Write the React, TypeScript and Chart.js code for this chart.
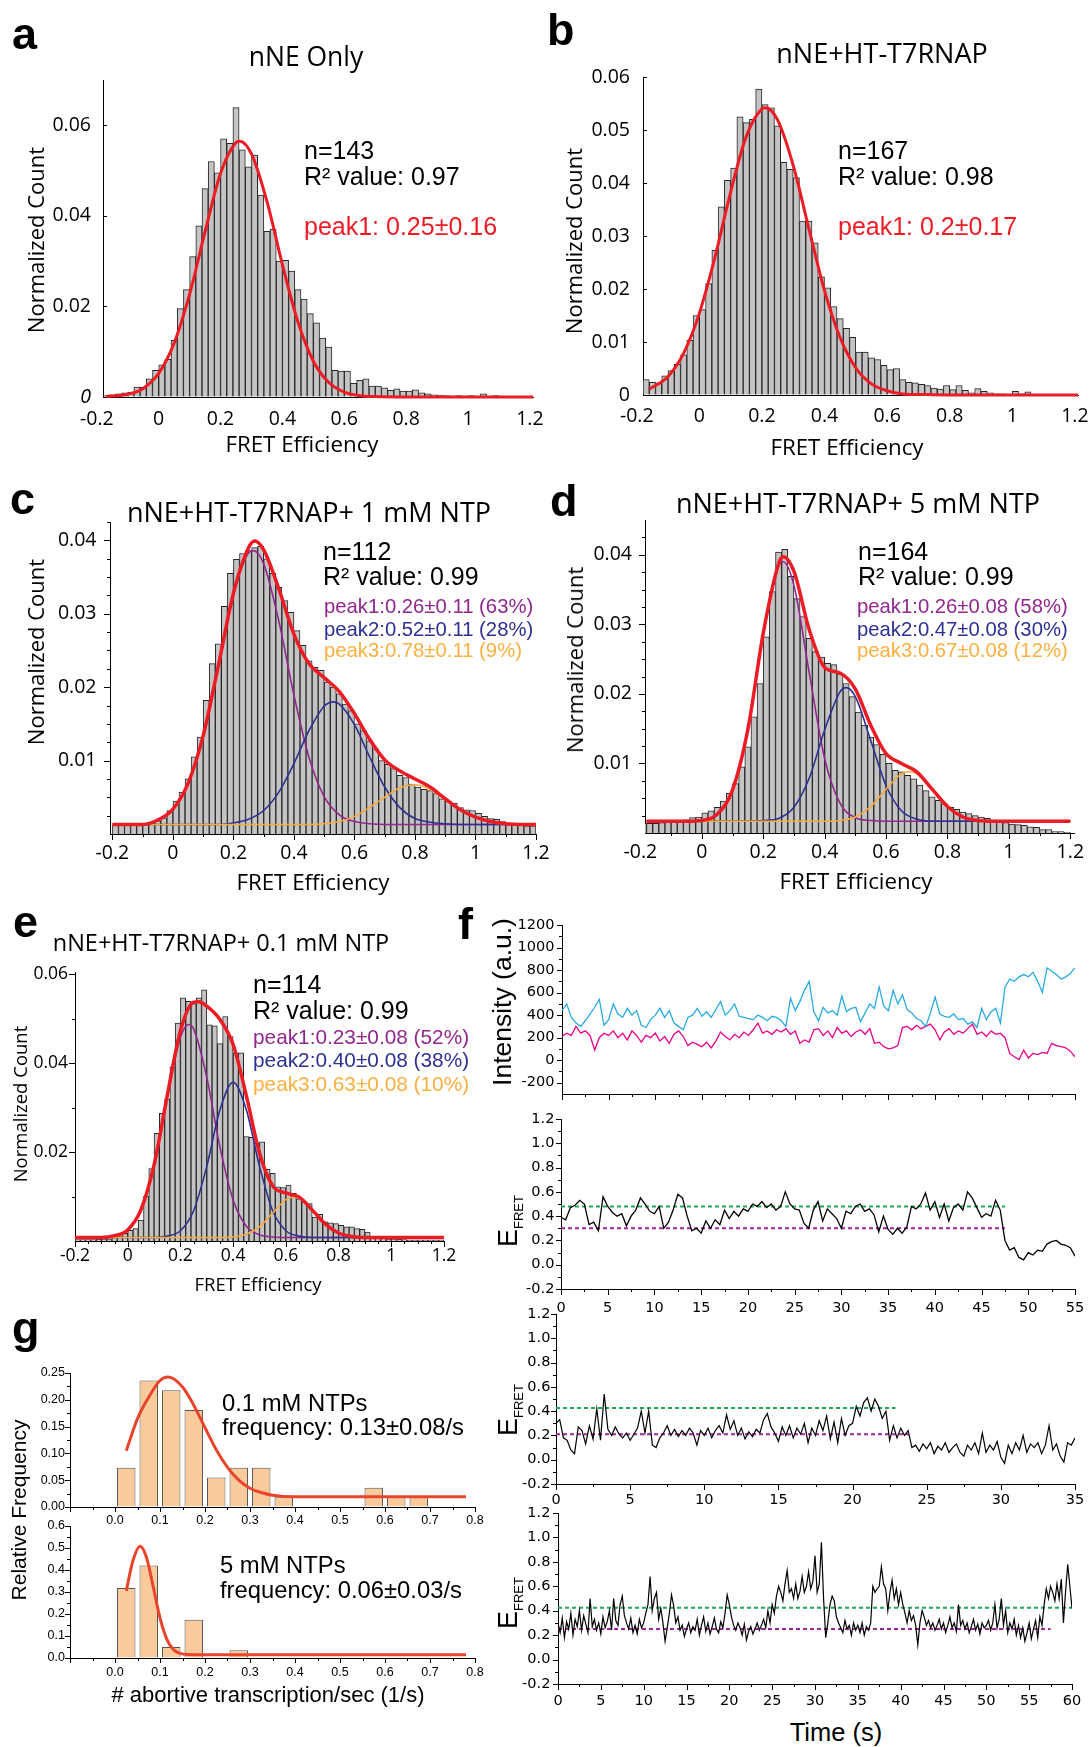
import React, { useEffect, useRef } from 'react';
import { Chart, registerables } from 'chart.js';

// ================= DATA =================
// histogram bin centres (FRET efficiency), width 0.02
const BIN_START = -0.19;
const BIN_W = 0.02;
const binX = Array.from({ length: 70 }, (_, i) => Math.round((BIN_START + BIN_W * i) * 100) / 100);

// panel a: nNE only
const histA = [0, .0003, .0005, .0007, .0009, .0011, .0022, .0022, .004, .0059,
  .0071, .0083, .0125, .0195, .0237, .031, .0378, .046, .052, .0495,
  .057, .056, .0639, .0546, .0508, .0534, .0446, .0366, .0371, .030,
  .0302, .0278, .0237, .0216, .0184, .0164, .013, .011, .0059, .0057,
  .0057, .003, .0037, .004, .0024, .0024, .002, .0015, .0018, .0013,
  .0013, .0016, .0009, .0007, .0005, .0004, .0003, .0002, .0003, .0002,
  .0003, .0002, .0007, .0002, .0003, .0002, .0001, .0001, .0001, .0001];
const fitA = [[-0.17, .0001], [-0.1, .0006], [-0.05, .0019], [0, .0052], [0.05, .0119], [0.1, .0227], [0.15, .0365], [0.2, .0494], [0.25, .0562], [0.262, .0565], [0.3, .0537], [0.35, .0432], [0.4, .0292], [0.45, .0166], [0.5, .0079], [0.55, .0032], [0.6, .0011], [0.65, .0003], [0.7, .0001], [0.8, 0], [1.21, 0]];

// panel b: nNE + HT-T7RNAP
const histB = [0, .0029, .0024, .0023, .0036, .0046, .0058, .0076, .0103, .015,
  .0161, .021, .0273, .0355, .0405, .0428, .0525, .0514, .052, .0577,
  .0548, .0542, .0508, .0439, .0426, .041, .0328, .0328, .0287, .0223,
  .0202, .0167, .0144, .0126, .0109, .0081, .0081, .007, .0067, .0056,
  .0048, .005, .0029, .0024, .0023, .002, .0018, .0013, .0011, .0018,
  .001, .0018, .0009, .0004, .0012, .0007, .0004, .0002, .0002, .0001,
  .0007, .0002, .0006, .0001, .0001, 0, 0, 0, 0, 0];
const fitB = [[-0.16, .0011], [-0.1, .0035], [-0.05, .0079], [0, .0154], [0.05, .026], [0.1, .0383], [0.15, .0488], [0.2, .054], [0.211, .0542], [0.25, .0519], [0.3, .0433], [0.35, .0314], [0.4, .0197], [0.45, .0108], [0.5, .0051], [0.55, .0021], [0.6, .0008], [0.65, .0002], [0.7, .0001], [0.8, 0], [1.21, 0]];

// panel c: + 1 mM NTP
const histC = [.0012, .0012, .0012, .0012, .0012, .0013, .0015, .0018, .0022, .0032,
  .0045, .0057, .0075, .0105, .0132, .0182, .0232, .0259, .031, .0355,
  .0374, .0382, .0386, .039, .0392, .0375, .0355, .0336, .0318, .0302,
  .0277, .0257, .0236, .0227, .0223, .0207, .02, .0191, .0177, .0168,
  .015, .0141, .0127, .0116, .01, .0095, .0089, .008, .0077, .0068,
  .0064, .0061, .0059, .0055, .0048, .0045, .0042, .0036, .0033, .0032,
  .0028, .0024, .0021, .002, .0017, .0015, .0015, .0014, .0011, .0011];
const fitC = [[-0.2, .0013], [-0.1, .0013], [-0.05, .0019], [0, .0034], [0.05, .0069], [0.1, .0134], [0.15, .0229], [0.2, .0328], [0.25, .039], [0.27, .0399], [0.3, .0387], [0.35, .0334], [0.4, .0272], [0.45, .0232], [0.5, .0213], [0.55, .0194], [0.6, .0164], [0.65, .0129], [0.7, .0101], [0.75, .0086], [0.8, .0075], [0.85, .0064], [0.9, .0048], [0.95, .0033], [1.0, .0023], [1.05, .0017], [1.1, .0014], [1.15, .0013], [1.2, .0013]];
const peak1C = [[-0.2, .0013], [-0.1, .0013], [-0.05, .0019], [0, .0034], [0.05, .0069], [0.1, .0134], [0.15, .0229], [0.2, .0326], [0.25, .0383], [0.265, .0386], [0.3, .0368], [0.35, .029], [0.4, .0189], [0.45, .0104], [0.5, .0051], [0.55, .0026], [0.6, .0017], [0.65, .0014], [0.7, .0013], [1.2, .0013]];
const peak2C = [[-0.2, .0013], [0.15, .0013], [0.2, .0015], [0.25, .002], [0.3, .0032], [0.35, .0057], [0.4, .0096], [0.45, .0141], [0.5, .0174], [0.53, .018], [0.55, .0177], [0.6, .0149], [0.65, .0105], [0.7, .0064], [0.75, .0036], [0.8, .0021], [0.85, .0016], [0.9, .0014], [0.95, .0013], [1.2, .0013]];
const peak3C = [[-0.2, .0013], [0.45, .0013], [0.5, .0014], [0.55, .0017], [0.6, .0024], [0.65, .0036], [0.7, .005], [0.75, .0063], [0.795, .0067], [0.85, .0061], [0.9, .0047], [0.95, .0033], [1.0, .0023], [1.05, .0017], [1.1, .0014], [1.15, .0013], [1.2, .0013]];

// panel d: + 5 mM NTP
const histD = [.0014, .0014, .0014, .0015, .0016, .0017, .0018, .0019, .0022, .0023,
  .0029, .0032, .0037, .0046, .0057, .0071, .0095, .0124, .0167, .0215,
  .0282, .0347, .0404, .0408, .0369, .0337, .0311, .028, .0261, .0253,
  .0244, .0242, .0229, .0215, .0196, .0174, .0155, .0138, .0127, .0113,
  .01, .009, .0088, .0083, .0078, .0069, .0061, .0052, .0047, .0042,
  .0037, .0034, .003, .0028, .0025, .0023, .0021, .0018, .0016, .0015,
  .0013, .0012, .0011, .0009, .0008, .0005, .0005, .0002, .0002, .0001];
const fitD = [[-0.18, .0017], [-0.05, .0017], [0, .0018], [0.05, .0027], [0.1, .0062], [0.15, .0149], [0.2, .0287], [0.25, .0387], [0.265, .0397], [0.3, .0376], [0.35, .0292], [0.4, .0238], [0.45, .023], [0.5, .0207], [0.55, .0155], [0.6, .0114], [0.65, .01], [0.7, .0088], [0.75, .0063], [0.8, .0038], [0.85, .0023], [0.9, .0018], [0.95, .0017], [1.2, .0017]];
const peak1D = [[-0.18, .0017], [-0.05, .0017], [0, .0018], [0.05, .0027], [0.1, .0062], [0.15, .0149], [0.2, .0286], [0.25, .0383], [0.265, .039], [0.3, .0356], [0.35, .023], [0.4, .0107], [0.45, .0043], [0.5, .0022], [0.55, .0018], [0.6, .0017], [1.2, .0017]];
const peak2D = [[-0.18, .0017], [0.15, .0017], [0.2, .0018], [0.25, .0021], [0.3, .0037], [0.35, .0079], [0.4, .0148], [0.45, .0203], [0.47, .0209], [0.5, .0196], [0.55, .0133], [0.6, .0068], [0.65, .0032], [0.7, .002], [0.75, .0017], [1.2, .0017]];
const peak3D = [[-0.18, .0017], [0.4, .0017], [0.45, .0018], [0.5, .0023], [0.55, .0038], [0.6, .0063], [0.65, .0085], [0.675, .0088], [0.7, .0085], [0.75, .0063], [0.8, .0038], [0.85, .0023], [0.9, .0018], [0.95, .0017], [1.2, .0017]];

// panel e: + 0.1 mM NTP
const histE = [.0003, .0003, .0003, .0003, .0004, .0005, .0005, .0008, .001, .0017,
  .0024, .0028, .0047, .0101, .0163, .0242, .0287, .032, .0392, .049,
  .0547, .0539, .0534, .0547, .0565, .0486, .0484, .0444, .0505, .046,
  .0423, .0423, .0235, .0233, .022, .0223, .0161, .0152, .0122, .012,
  .0126, .0107, .0095, .0088, .0084, .0054, .006, .0043, .0041, .0039,
  .0035, .0032, .0032, .0028, .0026, .002, .0008, .0008, .0006, .0005,
  .0005, .0004, .0003, .0002, .0002, .0002, .0002, .0002, .0002, .0002];
const fitE = [[-0.2, .0008], [-0.1, .0008], [-0.05, .0012], [0, .0025], [0.05, .007], [0.1, .0171], [0.15, .0327], [0.2, .0473], [0.25, .0537], [0.27, .0538], [0.3, .0528], [0.35, .0498], [0.4, .0442], [0.45, .0327], [0.5, .0198], [0.55, .0124], [0.6, .0108], [0.65, .0099], [0.7, .007], [0.75, .0038], [0.8, .0018], [0.85, .001], [0.9, .0008], [1.2, .0008]];
const peak1E = [[-0.2, .0008], [-0.1, .0008], [-0.05, .0012], [0, .0025], [0.05, .007], [0.1, .0171], [0.15, .0324], [0.2, .0458], [0.232, .0487], [0.25, .0477], [0.3, .0368], [0.35, .0211], [0.4, .0092], [0.45, .0033], [0.5, .0014], [0.55, .0009], [0.6, .0008], [1.2, .0008]];
const peak2E = [[-0.2, .0008], [0.1, .0008], [0.15, .0011], [0.2, .0023], [0.25, .0068], [0.3, .0168], [0.35, .0295], [0.4, .0357], [0.45, .0295], [0.5, .0168], [0.55, .0068], [0.6, .0023], [0.65, .0011], [0.7, .0008], [1.2, .0008]];
const peak3E = [[-0.2, .0008], [0.35, .0008], [0.4, .0009], [0.45, .0015], [0.5, .0032], [0.55, .0063], [0.6, .0093], [0.63, .0099], [0.65, .0096], [0.7, .007], [0.75, .0038], [0.8, .0018], [0.85, .001], [0.9, .0008], [1.2, .0008]];

// panel f: time traces
const DT_INT = 0.5; // s per point, intensity + trace 1
const DT_FAST = 0.25; // s per point, traces 2 and 3
const donor = [440, 500, 380, 330, 300, 350, 410, 470, 540, 310,
  360, 500, 410, 380, 460, 400, 440, 310, 290, 360,
  400, 460, 380, 440, 330, 300, 270, 380, 400, 460,
  390, 430, 380, 450, 520, 400, 440, 500, 390, 380,
  370, 360, 400, 380, 350, 390, 380, 350, 300, 550,
  440, 520, 620, 700, 430, 350, 470, 420, 440, 400,
  570, 430, 460, 470, 340, 420, 500, 460, 650, 480,
  440, 620, 500, 580, 450, 420, 370, 350, 300, 420,
  560, 410, 390, 380, 410, 360, 370, 320, 340, 290,
  460, 360, 430, 460, 330, 650, 720, 700, 740, 760,
  740, 780, 700, 600, 820, 790, 760, 720, 740, 770, 820];
const acceptor = [210, 240, 220, 300, 240, 260, 220, 90, 200, 240,
  220, 260, 200, 240, 180, 260, 220, 160, 220, 200,
  240, 170, 210, 150, 230, 260, 210, 130, 160, 140,
  120, 160, 110, 170, 250, 210, 180, 230, 200, 250,
  220, 270, 330, 240, 260, 230, 270, 250, 280, 230,
  260, 150, 180, 160, 270, 280, 220, 260, 200, 290,
  240, 260, 210, 250, 270, 230, 280, 150, 160, 120,
  100, 110, 130, 290, 300, 270, 310, 280, 300, 320,
  270, 180, 250, 280, 230, 260, 240, 280, 320, 230,
  250, 210, 260, 230, 240, 200, 60, 30, 5, 90,
  20, 60, 50, 70, 60, 150, 130, 120, 110, 80, 30];
const fret1 = [.39, .37, .47, .49, .53, .50, .33, .35, .28, .56,
  .48, .43, .40, .42, .32, .40, .45, .55, .50, .44,
  .42, .48, .30, .35, .45, .58, .55, .40, .28, .30,
  .26, .36, .30, .37, .33, .45, .38, .44, .40, .46,
  .44, .50, .48, .52, .47, .50, .45, .48, .60, .50,
  .46, .45, .34, .30, .45, .52, .36, .46, .42, .38,
  .30, .44, .42, .48, .50, .44, .46, .41, .27, .40,
  .29, .25, .30, .26, .31, .48, .46, .50, .59, .45,
  .52, .39, .50, .36, .47, .50, .45, .60, .55, .47,
  .39, .42, .40, .53, .45, .20, .12, .14, .06, .04,
  .10, .08, .12, .11, .17, .19, .20, .17, .16, .14, .07];
const fret2 = [.30, .33, .18, .16, .08, .05, .27, .24, .13, .28, .17, .42, .16, .54, .25, .20, .27, .21, .18, .22,
  .16, .21, .26, .40, .22, .40, .12, .10, .18, .22, .28, .20, .25, .19, .24, .20, .26, .22, .12, .24,
  .20, .26, .18, .24, .28, .22, .37, .25, .32, .20, .26, .17, .23, .19, .25, .22, .33, .38, .27, .22,
  .15, .27, .20, .28, .18, .26, .21, .30, .14, .26, .20, .32, .24, .36, .17, .31, .14, .34, .20, .28,
  .30, .44, .36, .47, .51, .40, .50, .44, .34, .40, .16, .28, .18, .26, .20, .24, .10, .12, .07, .13,
  .09, .14, .05, .11, .08, .14, .06, .10, .13, .06, .03, .12, .08, .14, .05, .22, .06, .12, .08, .15,
  .02, -.03, .12, .05, .14, .08, .20, .06, .13, .10, .14, .05, .12, .28, .08, .13, .03, -.02, .14, .12,
  .18];
const fret3 = [.30, .22, .34, .18, .31, .25, .38, .20, .33, .27, .40, .24, .36, .29, .22, .50, .27, .33, .24, .30, .21,
  .35, .26, .31, .40, .24, .50, .32, .28, .45, .52, .36, .30, .25, .34, .22, .28, .21, .33, .26, .30,
  .38, .45, .68, .40, .50, .55, .33, .42, .30, .15, .26, .38, .53, .44, .30, .35, .24, .28, .19, .25,
  .30, .22, .27, .24, .33, .20, .28, .35, .23, .30, .21, .27, .34, .25, .22, .31, .26, .38, .53, .45,
  .35, .28, .24, .30, .26, .20, .29, .16, .23, .27, .21, .25, .30, .24, .28, .33, .26, .40, .30, .45,
  .38, .52, .60, .55, .48, .62, .73, .55, .58, .50, .62, .50, .56, .68, .55, .60, .72, .58, .64, .85,
  .55, .62, .96, .50, .18, .30, .45, .52, .48, .35, .30, .26, .22, .32, .25, .28, .20, .30, .24, .28,
  .22, .30, .20, .27, .24, .30, .60, .55, .58, .60, .76, .62, .58, .40, .55, .65, .50, .58, .45, .55,
  .45, .38, .30, .40, .32, .36, .28, .12, .30, .40, .35, .28, .32, .26, .30, .24, .28, .33, .25, .30,
  .22, .28, .35, .26, .30, .23, .45, .28, .32, .25, .30, .22, .27, .33, .24, .29, .21, .30, .26, .28,
  .32, .24, .30, .45, .26, .33, .50, .28, .40, .22, .30, .25, .33, .20, .28, .18, .26, .15, .22, .30,
  .17, .25, .32, .18, .35, .28, .45, .58, .50, .60, .55, .48, .62, .50, .66, .30, .56, .78, .60, .42];
// dashed state levels [value, end time]
const lvl1 = { hi: [0.48, 47.5], lo: [0.30, 47.5] };
const lvl2 = { hi: [0.425, 22.9], lo: [0.21, 23.8] };
const lvl3 = { hi: [0.425, 60], lo: [0.25, 57.5] };

// panel g: abortive transcription frequency histograms
const gBinX = [0.025, 0.075, 0.125, 0.175, 0.225, 0.275, 0.325, 0.375, 0.425, 0.475, 0.525, 0.575, 0.625, 0.675];
const gTop = [.073, .236, .218, .181, .055, .073, .073, .018, null, null, null, .036, .018, .018];
const gBot = [.318, .421, .05, .174, null, .035, null, null, null, null, null, null, null, null];
const gTopFit = [[0.025, .105], [0.05, .165], [0.075, .205], [0.1, .236], [0.118, .2425], [0.15, .224], [0.175, .19], [0.2, .148], [0.225, .107], [0.25, .074], [0.275, .05], [0.3, .035], [0.325, .027], [0.35, .022], [0.4, .019], [0.78, .019]];
const gBotFit = [[0.025, .305], [0.04, .443], [0.056, .508], [0.07, .457], [0.085, .323], [0.1, .182], [0.115, .086], [0.13, .038], [0.145, .021], [0.16, .016], [0.2, .015], [0.78, .015]];

// tick values
const X_H = [-0.2, 0, 0.2, 0.4, 0.6, 0.8, 1, 1.2];
const X_H_MIN = [-0.1, 0.1, 0.3, 0.5, 0.7, 0.9, 1.1];
const X_E_MIN = [-0.15, -0.1, -0.05, 0.05, 0.1, 0.15, 0.25, 0.3, 0.35, 0.45, 0.5, 0.55, 0.65, 0.7, 0.75, 0.85, 0.9, 0.95, 1.05, 1.1, 1.15];
const A_Y = [0, 0.02, 0.04, 0.06];
const B_Y = [0, 0.01, 0.02, 0.03, 0.04, 0.05, 0.06];
const CD_Y = [0.01, 0.02, 0.03, 0.04];
const CD_Y_MIN = [0.0025, 0.005, 0.0075, 0.0125, 0.015, 0.0175, 0.0225, 0.025, 0.0275, 0.0325, 0.035, 0.0375, 0.0425];
const E_Y = [0.02, 0.04, 0.06];
const E_Y_MIN = [0.01, 0.03, 0.05];
const I_Y = [-200, 0, 200, 400, 600, 800, 1000, 1200];
const I_Y_MIN = [-100, 100, 300, 500, 700, 900, 1100];
const F_Y = [-0.2, 0, 0.2, 0.4, 0.6, 0.8, 1, 1.2];
const F_Y_MIN = [-0.1, 0.1, 0.3, 0.5, 0.7, 0.9, 1.1];
const T55 = [0, 5, 10, 15, 20, 25, 30, 35, 40, 45, 50, 55];
const T55_MIN = [2.5, 7.5, 12.5, 17.5, 22.5, 27.5, 32.5, 37.5, 42.5, 47.5, 52.5];
const T35 = [0, 5, 10, 15, 20, 25, 30, 35];
const T35_MIN = [2.5, 7.5, 12.5, 17.5, 22.5, 27.5, 32.5];
const T60 = [0, 5, 10, 15, 20, 25, 30, 35, 40, 45, 50, 55, 60];
const T60_MIN = [2.5, 7.5, 12.5, 17.5, 22.5, 27.5, 32.5, 37.5, 42.5, 47.5, 52.5, 57.5];
const G_X = [0, 0.1, 0.2, 0.3, 0.4, 0.5, 0.6, 0.7, 0.8];
const G_X_MAJ = [-0.1, 0, 0.1, 0.2, 0.3, 0.4, 0.5, 0.6, 0.7, 0.8];
const G_X_MIN = [-0.05, 0.05, 0.15, 0.25, 0.35, 0.45, 0.55, 0.65, 0.75];
const G1_Y = [0, 0.05, 0.1, 0.15, 0.2, 0.25];
const G1_Y_MIN = [0.025, 0.075, 0.125, 0.175, 0.225];
const G2_Y = [0, 0.1, 0.2, 0.3, 0.4, 0.5, 0.6];
const G2_Y_MIN = [0.05, 0.15, 0.25, 0.35, 0.45, 0.55];

// ================= STYLE =================
const OS = "'Open Sans', sans-serif";
const LS = "'Liberation Sans', Arial, sans-serif";
const RED = '#ed1c24';
const PUR = '#92278f';
const BLU = '#2e3192';
const ORA = '#f9a93a';
const ORA_T = '#fbb040';
const BAR_FILL = '#c4c4c4';
const BAR_EDGE = '#262626';

const tickMarks = {
  id: 'tickMarks',
  afterDraw(chart: any, _a: any, opts: any) {
    const list = (opts && opts.marks) || [];
    const ctx = chart.ctx;
    const ca = chart.chartArea;
    ctx.save();
    ctx.strokeStyle = '#000';
    ctx.lineWidth = 1;
    for (const m of list) {
      const sc = chart.scales[m.axis];
      for (const v of m.values) {
        const p = Math.round(sc.getPixelForValue(v)) + 0.5;
        ctx.beginPath();
        if (m.axis === 'x') { ctx.moveTo(p, ca.bottom); ctx.lineTo(p, ca.bottom + m.len); }
        else { ctx.moveTo(ca.left, p); ctx.lineTo(ca.left - m.len, p); }
        ctx.stroke();
      }
    }
    ctx.restore();
  },
};
Chart.register(...registerables, tickMarks);

const PAD_T = 34;
const PAD_R = 34;

function axis(o: any) {
  return {
    type: 'linear',
    min: o.min,
    max: o.max,
    offset: false,
    grid: { display: true, drawOnChartArea: false, drawTicks: false, offset: false },
    border: { display: true, color: '#000', width: 1 },
    afterBuildTicks: (s: any) => { s.ticks = o.ticks.map((v: number) => ({ value: v })); },
    afterFit: (s: any) => { if (o.axis === 'x') s.height = o.size; else s.width = o.size; },
    ticks: {
      display: o.show !== false,
      padding: o.pad,
      autoSkip: false,
      maxRotation: 0,
      minRotation: 0,
      color: '#000',
      font: o.font,
      callback: (v: any) => o.fmt(v),
    },
  };
}

const fmtX = (v: number) => (v === 0 ? '0' : v === 1 ? '1' : v.toFixed(1));
const fmt2 = (v: number) => (v === 0 ? '0' : v.toFixed(2));
const fmt2f = (v: number) => v.toFixed(2);
const fmt1 = (v: number) => v.toFixed(1);
const fmtS = (v: number) => String(v);

const pts = (arr: number[][]) => arr.map((p) => ({ x: p[0], y: p[1] }));
const series = (vals: number[], dt: number) => vals.map((y, i) => ({ x: i * dt, y }));

function histConfig(h: number[], lines: any[], xs: any, ys: any, marks: any[]) {
  return {
    type: 'bar',
    data: {
      datasets: [
        ...lines.map((l: any, i: number) => ({
          type: 'line', data: pts(l.d), borderColor: l.c, borderWidth: l.w, pointRadius: 0,
          fill: false, cubicInterpolationMode: 'monotone', order: i, clip: false,
        })),
        {
          type: 'bar', data: binX.map((x, i) => ({ x, y: h[i] })), backgroundColor: BAR_FILL,
          borderColor: BAR_EDGE, borderWidth: 1, barPercentage: 1, categoryPercentage: 1, order: 50,
        },
      ],
    },
    options: { scales: { x: xs, y: ys }, plugins: { legend: { display: false }, tooltip: { enabled: false }, tickMarks: { marks } } },
  };
}

function traceConfig(lines: any[], xs: any, ys: any, marks: any[]) {
  return {
    type: 'line',
    data: {
      datasets: lines.map((l: any, i: number) => ({
        data: l.d, borderColor: l.c, borderWidth: l.w, borderDash: l.dash || [], pointRadius: 0,
        tension: 0, fill: false, order: i,
      })),
    },
    options: { scales: { x: xs, y: ys }, plugins: { legend: { display: false }, tooltip: { enabled: false }, tickMarks: { marks } } },
  };
}

function gConfig(vals: any[], fit: number[][], xs: any, ys: any, marks: any[]) {
  return {
    type: 'bar',
    data: {
      datasets: [
        { type: 'line', data: pts(fit), borderColor: '#e8452c', borderWidth: 3, pointRadius: 0, fill: false, cubicInterpolationMode: 'monotone', order: 0, clip: false },
        { type: 'bar', data: gBinX.map((x, i) => ({ x, y: vals[i] })), backgroundColor: '#f9cb9c', borderColor: '#555', borderWidth: 1, barPercentage: 0.82, categoryPercentage: 1, order: 5 },
      ],
    },
    options: { scales: { x: xs, y: ys }, plugins: { legend: { display: false }, tooltip: { enabled: false }, tickMarks: { marks } } },
  };
}

function ChartBox({ box, yW, xH, make }: any) {
  const ref = useRef<HTMLCanvasElement>(null);
  const w = box.R - box.L + yW + PAD_R;
  const h = box.B - box.T + PAD_T + xH;
  useEffect(() => {
    const cfg: any = make();
    cfg.options = {
      ...cfg.options,
      responsive: false,
      maintainAspectRatio: false,
      animation: false,
      devicePixelRatio: 1,
      events: [],
      layout: { padding: { top: PAD_T, right: PAD_R, left: 0, bottom: 0 }, autoPadding: false },
    };
    const c = new Chart(ref.current as HTMLCanvasElement, cfg);
    return () => c.destroy();
  }, []);
  return <canvas ref={ref} width={w} height={h} style={{ position: 'absolute', left: box.L - yW, top: box.T - PAD_T, width: w, height: h }} />;
}

function T({ x, b, fs, f = LS, c = '#000', a = 'left', w = 400, children }: any) {
  const k = f === OS ? 0.888 : 0.847;
  return (
    <div style={{ position: 'absolute', left: x, top: b - k * fs, fontSize: fs, lineHeight: `${fs}px`, fontFamily: f, color: c, fontWeight: w, whiteSpace: 'nowrap', transform: a === 'center' ? 'translateX(-50%)' : undefined }}>{children}</div>
  );
}
function V({ cx, cy, fs, f = LS, children }: any) {
  return (
    <div style={{ position: 'absolute', left: cx, top: cy, fontSize: fs, lineHeight: `${fs}px`, fontFamily: f, whiteSpace: 'nowrap', transform: 'translate(-50%,-50%) rotate(-90deg)' }}>{children}</div>
  );
}
function EF({ cx, cy }: any) {
  return (
    <div style={{ position: 'absolute', left: cx, top: cy, fontSize: 27, lineHeight: '27px', fontFamily: LS, whiteSpace: 'nowrap', transform: 'translate(-50%,-50%) rotate(-90deg)' }}>
      E<span style={{ fontSize: 13, position: 'relative', top: 6 }}>FRET</span>
    </div>
  );
}

const HF = { family: 'Open Sans', size: 19.5 };
const HFe = { family: 'Open Sans', size: 17.5 };
const FF = { family: 'DejaVu Sans', size: 14.5 };
const GF = { family: 'Liberation Sans', size: 12.5 };

// layout boxes (plot areas)
const BA = { L: 103, R: 533, T: 80, B: 397 };
const BB = { L: 643, R: 1078, T: 77, B: 395 };
const BC = { L: 110, R: 536, T: 522, B: 834 };
const BD = { L: 645, R: 1074, T: 520, B: 833 };
const BE = { L: 75, R: 444, T: 972, B: 1241 };
const BF1 = { L: 562, R: 1075, T: 925, B: 1094 };
const BF2 = { L: 561, R: 1075, T: 1119, B: 1289 };
const BF3 = { L: 556, R: 1075, T: 1314, B: 1484 };
const BF4 = { L: 558, R: 1072, T: 1513, B: 1684 };
const BG1 = { L: 70, R: 475, T: 1373, B: 1507 };
const BG2 = { L: 70, R: 475, T: 1526, B: 1658 };

const dash = (lv: number[]) => [{ x: 0, y: lv[0] }, { x: lv[1], y: lv[0] }];
const GREEN = '#1fa85a';
const DPUR = '#a4249f';

export default function App() {
  return (
    <div style={{ position: 'absolute', left: 0, top: 0, width: 1090, height: 1747, background: '#fff', overflow: 'hidden' }}>
      {/* a */}
      <ChartBox box={BA} yW={80} xH={45} make={() => histConfig(histA, [{ d: fitA, c: RED, w: 3 }],
        axis({ axis: 'x', min: -0.18, max: 1.21, ticks: X_H, fmt: fmtX, size: 45, pad: 10.5, font: HF }),
        axis({ axis: 'y', min: 0, max: 0.07, ticks: A_Y, fmt: fmt2, size: 80, pad: 12, font: (ctx: any) => ({ family: 'Open Sans', size: 19.5, style: ctx.tick && ctx.tick.value === 0 ? 'italic' : 'normal' }) }),
        [{ axis: 'y', values: A_Y.slice(1), len: -4 }])} />
      {/* b */}
      <ChartBox box={BB} yW={80} xH={45} make={() => histConfig(histB, [{ d: fitB, c: RED, w: 3 }],
        axis({ axis: 'x', min: -0.18, max: 1.21, ticks: X_H, fmt: fmtX, size: 45, pad: 9.7, font: HF }),
        axis({ axis: 'y', min: 0, max: 0.06, ticks: B_Y, fmt: fmt2, size: 80, pad: 13, font: HF }),
        [{ axis: 'y', values: B_Y.slice(1), len: -4 }])} />
      {/* c */}
      <ChartBox box={BC} yW={80} xH={45} make={() => histConfig(histC, [{ d: fitC, c: RED, w: 3.5 }, { d: peak3C, c: ORA, w: 1.6 }, { d: peak2C, c: BLU, w: 1.6 }, { d: peak1C, c: PUR, w: 1.6 }],
        axis({ axis: 'x', min: -0.208, max: 1.2, ticks: X_H, fmt: fmtX, size: 45, pad: 7.7, font: HF }),
        axis({ axis: 'y', min: 0, max: 0.0425, ticks: CD_Y, fmt: fmt2f, size: 80, pad: 13.5, font: HF }),
        [{ axis: 'x', values: X_H, len: 6 }, { axis: 'x', values: X_H_MIN, len: 3 }, { axis: 'y', values: CD_Y, len: 6 }, { axis: 'y', values: CD_Y_MIN, len: 3 }])} />
      {/* d */}
      <ChartBox box={BD} yW={80} xH={45} make={() => histConfig(histD, [{ d: fitD, c: RED, w: 3.5 }, { d: peak3D, c: ORA, w: 1.6 }, { d: peak2D, c: BLU, w: 1.6 }, { d: peak1D, c: PUR, w: 1.6 }],
        axis({ axis: 'x', min: -0.185, max: 1.212, ticks: X_H, fmt: fmtX, size: 45, pad: 7.7, font: HF }),
        axis({ axis: 'y', min: 0, max: 0.045, ticks: CD_Y, fmt: fmt2f, size: 80, pad: 13, font: HF }),
        [{ axis: 'x', values: X_H.slice(1), len: 6 }, { axis: 'x', values: X_H_MIN, len: 3 }, { axis: 'y', values: CD_Y, len: 6 }, { axis: 'y', values: CD_Y_MIN, len: 3 }])} />
      {/* e */}
      <ChartBox box={BE} yW={70} xH={40} make={() => histConfig(histE, [{ d: fitE, c: RED, w: 3.5 }, { d: peak3E, c: ORA, w: 1.6 }, { d: peak2E, c: BLU, w: 1.6 }, { d: peak1E, c: PUR, w: 1.6 }],
        axis({ axis: 'x', min: -0.2, max: 1.2, ticks: X_H, fmt: fmtX, size: 40, pad: 5, font: HFe }),
        axis({ axis: 'y', min: 0, max: 0.0605, ticks: E_Y, fmt: fmt2f, size: 70, pad: 7, font: HFe }),
        [{ axis: 'x', values: X_H, len: 6 }, { axis: 'x', values: X_E_MIN, len: 3 }, { axis: 'y', values: E_Y, len: 6 }, { axis: 'y', values: E_Y_MIN, len: 3 }])} />
      {/* f1 intensity */}
      <ChartBox box={BF1} yW={60} xH={20} make={() => traceConfig(
        [{ d: series(donor, DT_INT), c: '#29abe2', w: 1.3 }, { d: series(acceptor, DT_INT), c: '#ec008c', w: 1.3 }],
        axis({ axis: 'x', min: 0, max: 55, ticks: T55, fmt: fmtS, size: 20, pad: 8, font: FF, show: false }),
        axis({ axis: 'y', min: -300, max: 1200, ticks: I_Y, fmt: fmtS, size: 60, pad: 7.6, font: FF }),
        [{ axis: 'x', values: T55, len: 6 }, { axis: 'x', values: T55_MIN, len: 3 }, { axis: 'y', values: I_Y, len: 5 }, { axis: 'y', values: I_Y_MIN, len: 3 }])} />
      {/* f2 */}
      <ChartBox box={BF2} yW={60} xH={30} make={() => traceConfig(
        [{ d: series(fret1, DT_INT), c: '#000', w: 1.3 }, { d: dash(lvl1.hi), c: GREEN, w: 2, dash: [4, 3] }, { d: dash(lvl1.lo), c: DPUR, w: 2, dash: [4, 3] }],
        axis({ axis: 'x', min: 0, max: 55, ticks: T55, fmt: fmtS, size: 30, pad: 10.3, font: FF }),
        axis({ axis: 'y', min: -0.2, max: 1.2, ticks: F_Y, fmt: fmt1, size: 60, pad: 6.6, font: FF }),
        [{ axis: 'x', values: T55, len: 6 }, { axis: 'x', values: T55_MIN, len: 3 }, { axis: 'y', values: F_Y, len: 5 }, { axis: 'y', values: F_Y_MIN, len: 3 }])} />
      {/* f3 */}
      <ChartBox box={BF3} yW={60} xH={30} make={() => traceConfig(
        [{ d: series(fret2, DT_FAST), c: '#000', w: 1.2 }, { d: dash(lvl2.hi), c: GREEN, w: 2, dash: [4, 3] }, { d: dash(lvl2.lo), c: DPUR, w: 2, dash: [4, 3] }],
        axis({ axis: 'x', min: 0, max: 35, ticks: T35, fmt: fmtS, size: 30, pad: 7.3, font: FF }),
        axis({ axis: 'y', min: -0.2, max: 1.2, ticks: F_Y, fmt: fmt1, size: 60, pad: 5.6, font: FF }),
        [{ axis: 'x', values: T35, len: 6 }, { axis: 'x', values: T35_MIN, len: 3 }, { axis: 'y', values: F_Y, len: 5 }, { axis: 'y', values: F_Y_MIN, len: 3 }])} />
      {/* f4 */}
      <ChartBox box={BF4} yW={60} xH={30} make={() => traceConfig(
        [{ d: series(fret3, DT_FAST), c: '#000', w: 1.2 }, { d: dash(lvl3.hi), c: GREEN, w: 2, dash: [4, 3] }, { d: dash(lvl3.lo), c: DPUR, w: 2, dash: [4, 3] }],
        axis({ axis: 'x', min: 0, max: 60, ticks: T60, fmt: fmtS, size: 30, pad: 8.3, font: FF }),
        axis({ axis: 'y', min: -0.2, max: 1.2, ticks: F_Y, fmt: fmt1, size: 60, pad: 7.6, font: FF }),
        [{ axis: 'x', values: T60, len: 6 }, { axis: 'x', values: T60_MIN, len: 3 }, { axis: 'y', values: F_Y, len: 5 }, { axis: 'y', values: F_Y_MIN, len: 3 }])} />
      {/* g1 */}
      <ChartBox box={BG1} yW={55} xH={18} make={() => gConfig(gTop, gTopFit,
        axis({ axis: 'x', min: -0.1, max: 0.8, ticks: G_X, fmt: fmt1, size: 18, pad: 6, font: GF }),
        axis({ axis: 'y', min: 0, max: 0.25, ticks: G1_Y, fmt: fmt2f, size: 55, pad: 5, font: GF }),
        [{ axis: 'x', values: G_X_MAJ, len: 5 }, { axis: 'x', values: G_X_MIN, len: 3 }, { axis: 'y', values: G1_Y, len: 5 }, { axis: 'y', values: G1_Y_MIN, len: 3 }])} />
      {/* g2 */}
      <ChartBox box={BG2} yW={55} xH={22} make={() => gConfig(gBot, gBotFit,
        axis({ axis: 'x', min: -0.1, max: 0.8, ticks: G_X, fmt: fmt1, size: 22, pad: 7, font: GF }),
        axis({ axis: 'y', min: 0, max: 0.6, ticks: G2_Y, fmt: fmt1, size: 55, pad: 5, font: GF }),
        [{ axis: 'x', values: G_X_MAJ, len: 5 }, { axis: 'x', values: G_X_MIN, len: 3 }, { axis: 'y', values: G2_Y, len: 5 }, { axis: 'y', values: G2_Y_MIN, len: 3 }])} />

      {/* panel letters */}
      <T x={12} b={49} fs={45} w={700}>a</T>
      <T x={547} b={45} fs={45} w={700}>b</T>
      <T x={10} b={514} fs={45} w={700}>c</T>
      <T x={550} b={516} fs={45} w={700}>d</T>
      <T x={13} b={937} fs={45} w={700}>e</T>
      <T x={458} b={939} fs={45} w={700}>f</T>
      <T x={12} b={1343} fs={45} w={700}>g</T>

      {/* titles */}
      <T x={306} b={67} fs={26.5} f={OS} a="center">nNE Only</T>
      <T x={882} b={63} fs={27} f={OS} a="center">nNE+HT-T7RNAP</T>
      <T x={309} b={522} fs={27} f={OS} a="center">nNE+HT-T7RNAP+ 1 mM NTP</T>
      <T x={858} b={513} fs={27} f={OS} a="center">nNE+HT-T7RNAP+ 5 mM NTP</T>
      <T x={221} b={952} fs={23.5} f={OS} a="center">nNE+HT-T7RNAP+ 0.1 mM NTP</T>

      {/* annotations */}
      <T x={304} b={159} fs={25}>n=143</T>
      <T x={304} b={185} fs={25}>R² value: 0.97</T>
      <T x={304} b={235} fs={25} c={RED}>peak1: 0.25±0.16</T>
      <T x={838} b={159} fs={25}>n=167</T>
      <T x={838} b={185} fs={25}>R² value: 0.98</T>
      <T x={838} b={235} fs={25} c={RED}>peak1: 0.2±0.17</T>
      <T x={323} b={560} fs={25}>n=112</T>
      <T x={323} b={585} fs={25}>R² value: 0.99</T>
      <T x={324} b={613} fs={20.3} c={PUR}>peak1:0.26±0.11 (63%)</T>
      <T x={324} b={636} fs={20.3} c={BLU}>peak2:0.52±0.11 (28%)</T>
      <T x={324} b={657} fs={20.3} c={ORA_T}>peak3:0.78±0.11 (9%)</T>
      <T x={858} b={560} fs={25}>n=164</T>
      <T x={858} b={585} fs={25}>R² value: 0.99</T>
      <T x={857} b={613} fs={20.3} c={PUR}>peak1:0.26±0.08 (58%)</T>
      <T x={857} b={636} fs={20.3} c={BLU}>peak2:0.47±0.08 (30%)</T>
      <T x={857} b={657} fs={20.3} c={ORA_T}>peak3:0.67±0.08 (12%)</T>
      <T x={253} b={993} fs={25}>n=114</T>
      <T x={253} b={1019} fs={25}>R² value: 0.99</T>
      <T x={253} b={1045} fs={20.8} c={PUR}>peak1:0.23±0.08 (52%)</T>
      <T x={253} b={1068} fs={20.8} c={BLU}>peak2:0.40±0.08 (38%)</T>
      <T x={253} b={1092} fs={20.8} c={ORA_T}>peak3:0.63±0.08 (10%)</T>

      {/* axis titles */}
      <T x={302} b={453} fs={22.3} f={OS} a="center">FRET Efficiency</T>
      <T x={847} b={456} fs={22.3} f={OS} a="center">FRET Efficiency</T>
      <T x={313} b={891} fs={22.3} f={OS} a="center">FRET Efficiency</T>
      <T x={856} b={890} fs={22.3} f={OS} a="center">FRET Efficiency</T>
      <T x={258} b={1291} fs={18.5} f={OS} a="center">FRET Efficiency</T>
      <V cx={35} cy={240} fs={22} f={OS}>Normalized Count</V>
      <V cx={573} cy={241} fs={22} f={OS}>Normalized Count</V>
      <V cx={35} cy={652} fs={22} f={OS}>Normalized Count</V>
      <V cx={574} cy={660} fs={22} f={OS}>Normalized Count</V>
      <V cx={20} cy={1104} fs={18.5} f={OS}>Normalized Count</V>

      {/* f labels */}
      <V cx={502} cy={1002} fs={26.5}>Intensity (a.u.)</V>
      <EF cx={510} cy={1221} />
      <EF cx={510} cy={1410} />
      <EF cx={510} cy={1603} />
      <T x={836} b={1742} fs={25.5} a="center">Time (s)</T>

      {/* g labels */}
      <T x={222} b={1411} fs={23.8}>0.1 mM NTPs</T>
      <T x={222} b={1435} fs={23.8}>frequency: 0.13±0.08/s</T>
      <T x={220} b={1573} fs={23.8}>5 mM NTPs</T>
      <T x={220} b={1598} fs={23.8}>frequency: 0.06±0.03/s</T>
      <V cx={18} cy={1510} fs={21}>Relative Frequency</V>
      <T x={268} b={1703} fs={22} a="center"># abortive transcription/sec (1/s)</T>
    </div>
  );
}
